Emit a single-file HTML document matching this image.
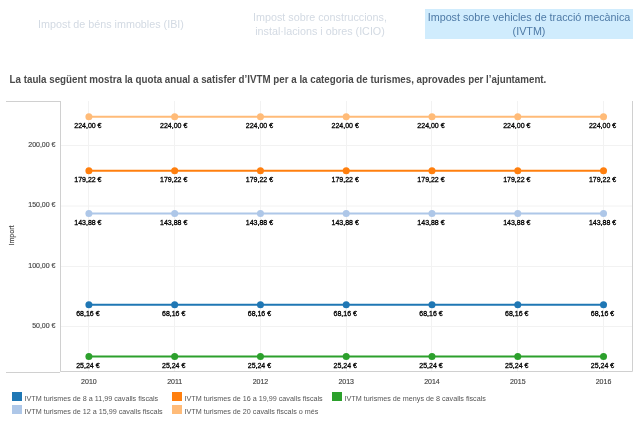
<!DOCTYPE html>
<html><head><meta charset="utf-8"><style>
html,body{margin:0;padding:0;background:#fff;width:643px;height:421px;overflow:hidden;position:relative;font-family:"Liberation Sans",sans-serif}
.tab{position:absolute;top:9px;width:208px;height:29px;padding-top:1px;display:flex;align-items:center;justify-content:center;text-align:center;font-size:10.75px;line-height:13.5px;color:#d3dae3}
.tab.on{background:#d0ecfd;color:#4e7aa6}
.title{position:absolute;left:9.6px;top:73px;font-size:9.77px;font-weight:bold;color:#4a4a4a;transform:scaleY(1.06);transform-origin:0 0;white-space:nowrap;line-height:12px}
svg{position:absolute;left:0;top:0}
.ax{font-size:7px;fill:#444;stroke:#444;stroke-width:0.15px}
.dl{font-size:7px;fill:#000;stroke:#000;stroke-width:0.3px}
.sw{position:absolute;width:10px;height:9px}
.lt{position:absolute;font-size:7.2px;line-height:9px;color:#555;white-space:nowrap}
</style></head><body><div id="wrap" style="position:absolute;left:0;top:0;width:643px;height:421px;will-change:transform">
<div class="tab" style="left:7px">Impost de béns immobles (IBI)</div>
<div class="tab" style="left:216px">Impost sobre construccions,<br>instal·lacions i obres (ICIO)</div>
<div class="tab on" style="left:425px">Impost sobre vehicles de tracció mecànica<br>(IVTM)</div>
<div class="title">La taula següent mostra la quota anual a satisfer d’IVTM per a la categoria de turismes, aprovades per l’ajuntament.</div>
<svg width="643" height="421" style="font-family:'Liberation Sans',sans-serif">
<line x1="60" y1="145.5" x2="632" y2="145.5" stroke="#f2f2f2" stroke-width="1"/>
<text x="55.5" y="146.8" text-anchor="end" class="ax">200,00 €</text>
<line x1="60" y1="206" x2="632" y2="206" stroke="#f2f2f2" stroke-width="1"/>
<text x="55.5" y="207.3" text-anchor="end" class="ax">150,00 €</text>
<line x1="60" y1="266.5" x2="632" y2="266.5" stroke="#f2f2f2" stroke-width="1"/>
<text x="55.5" y="267.8" text-anchor="end" class="ax">100,00 €</text>
<line x1="60" y1="326.5" x2="632" y2="326.5" stroke="#f2f2f2" stroke-width="1"/>
<text x="55.5" y="327.8" text-anchor="end" class="ax">50,00 €</text>
<line x1="88.5" y1="101" x2="88.5" y2="371" stroke="#f2f2f2" stroke-width="1"/>
<text x="88.90" y="383.5" text-anchor="middle" class="ax">2010</text>
<line x1="174.5" y1="101" x2="174.5" y2="371" stroke="#f2f2f2" stroke-width="1"/>
<text x="174.67" y="383.5" text-anchor="middle" class="ax">2011</text>
<line x1="260.5" y1="101" x2="260.5" y2="371" stroke="#f2f2f2" stroke-width="1"/>
<text x="260.44" y="383.5" text-anchor="middle" class="ax">2012</text>
<line x1="346.5" y1="101" x2="346.5" y2="371" stroke="#f2f2f2" stroke-width="1"/>
<text x="346.21" y="383.5" text-anchor="middle" class="ax">2013</text>
<line x1="431.5" y1="101" x2="431.5" y2="371" stroke="#f2f2f2" stroke-width="1"/>
<text x="431.98" y="383.5" text-anchor="middle" class="ax">2014</text>
<line x1="517.5" y1="101" x2="517.5" y2="371" stroke="#f2f2f2" stroke-width="1"/>
<text x="517.75" y="383.5" text-anchor="middle" class="ax">2015</text>
<line x1="603.5" y1="101" x2="603.5" y2="371" stroke="#f2f2f2" stroke-width="1"/>
<text x="603.52" y="383.5" text-anchor="middle" class="ax">2016</text>
<path d="M6,101.5 H60.5 V371.5" fill="none" stroke="#d0d0d0" stroke-width="1"/>
<path d="M6,372.5 H60" fill="none" stroke="#d0d0d0" stroke-width="1"/>
<path d="M60.5,101 V371.5 H632.5 V101" fill="none" stroke="#d0d0d0" stroke-width="1"/>
<text transform="translate(13.5,235.5) rotate(-90)" text-anchor="middle" class="ax">Import</text>
<polyline points="88.90,116.70 174.67,116.70 260.44,116.70 346.21,116.70 431.98,116.70 517.75,116.70 603.52,116.70" fill="none" stroke="#ffbb78" stroke-width="2"/>
<circle cx="88.90" cy="116.70" r="3.5" fill="#ffbb78"/>
<circle cx="174.67" cy="116.70" r="3.5" fill="#ffbb78"/>
<circle cx="260.44" cy="116.70" r="3.5" fill="#ffbb78"/>
<circle cx="346.21" cy="116.70" r="3.5" fill="#ffbb78"/>
<circle cx="431.98" cy="116.70" r="3.5" fill="#ffbb78"/>
<circle cx="517.75" cy="116.70" r="3.5" fill="#ffbb78"/>
<circle cx="603.52" cy="116.70" r="3.5" fill="#ffbb78"/>
<text x="87.90" y="128.00" text-anchor="middle" class="dl">224,00 €</text>
<text x="173.67" y="128.00" text-anchor="middle" class="dl">224,00 €</text>
<text x="259.44" y="128.00" text-anchor="middle" class="dl">224,00 €</text>
<text x="345.21" y="128.00" text-anchor="middle" class="dl">224,00 €</text>
<text x="430.98" y="128.00" text-anchor="middle" class="dl">224,00 €</text>
<text x="516.75" y="128.00" text-anchor="middle" class="dl">224,00 €</text>
<text x="602.52" y="128.00" text-anchor="middle" class="dl">224,00 €</text>
<polyline points="88.90,170.74 174.67,170.74 260.44,170.74 346.21,170.74 431.98,170.74 517.75,170.74 603.52,170.74" fill="none" stroke="#ff7f0e" stroke-width="2"/>
<circle cx="88.90" cy="170.74" r="3.5" fill="#ff7f0e"/>
<circle cx="174.67" cy="170.74" r="3.5" fill="#ff7f0e"/>
<circle cx="260.44" cy="170.74" r="3.5" fill="#ff7f0e"/>
<circle cx="346.21" cy="170.74" r="3.5" fill="#ff7f0e"/>
<circle cx="431.98" cy="170.74" r="3.5" fill="#ff7f0e"/>
<circle cx="517.75" cy="170.74" r="3.5" fill="#ff7f0e"/>
<circle cx="603.52" cy="170.74" r="3.5" fill="#ff7f0e"/>
<text x="87.90" y="182.04" text-anchor="middle" class="dl">179,22 €</text>
<text x="173.67" y="182.04" text-anchor="middle" class="dl">179,22 €</text>
<text x="259.44" y="182.04" text-anchor="middle" class="dl">179,22 €</text>
<text x="345.21" y="182.04" text-anchor="middle" class="dl">179,22 €</text>
<text x="430.98" y="182.04" text-anchor="middle" class="dl">179,22 €</text>
<text x="516.75" y="182.04" text-anchor="middle" class="dl">179,22 €</text>
<text x="602.52" y="182.04" text-anchor="middle" class="dl">179,22 €</text>
<polyline points="88.90,213.38 174.67,213.38 260.44,213.38 346.21,213.38 431.98,213.38 517.75,213.38 603.52,213.38" fill="none" stroke="#aec7e8" stroke-width="2"/>
<circle cx="88.90" cy="213.38" r="3.5" fill="#aec7e8"/>
<circle cx="174.67" cy="213.38" r="3.5" fill="#aec7e8"/>
<circle cx="260.44" cy="213.38" r="3.5" fill="#aec7e8"/>
<circle cx="346.21" cy="213.38" r="3.5" fill="#aec7e8"/>
<circle cx="431.98" cy="213.38" r="3.5" fill="#aec7e8"/>
<circle cx="517.75" cy="213.38" r="3.5" fill="#aec7e8"/>
<circle cx="603.52" cy="213.38" r="3.5" fill="#aec7e8"/>
<text x="87.90" y="224.68" text-anchor="middle" class="dl">143,88 €</text>
<text x="173.67" y="224.68" text-anchor="middle" class="dl">143,88 €</text>
<text x="259.44" y="224.68" text-anchor="middle" class="dl">143,88 €</text>
<text x="345.21" y="224.68" text-anchor="middle" class="dl">143,88 €</text>
<text x="430.98" y="224.68" text-anchor="middle" class="dl">143,88 €</text>
<text x="516.75" y="224.68" text-anchor="middle" class="dl">143,88 €</text>
<text x="602.52" y="224.68" text-anchor="middle" class="dl">143,88 €</text>
<polyline points="88.90,304.75 174.67,304.75 260.44,304.75 346.21,304.75 431.98,304.75 517.75,304.75 603.52,304.75" fill="none" stroke="#1f77b4" stroke-width="2"/>
<circle cx="88.90" cy="304.75" r="3.5" fill="#1f77b4"/>
<circle cx="174.67" cy="304.75" r="3.5" fill="#1f77b4"/>
<circle cx="260.44" cy="304.75" r="3.5" fill="#1f77b4"/>
<circle cx="346.21" cy="304.75" r="3.5" fill="#1f77b4"/>
<circle cx="431.98" cy="304.75" r="3.5" fill="#1f77b4"/>
<circle cx="517.75" cy="304.75" r="3.5" fill="#1f77b4"/>
<circle cx="603.52" cy="304.75" r="3.5" fill="#1f77b4"/>
<text x="87.90" y="316.05" text-anchor="middle" class="dl">68,16 €</text>
<text x="173.67" y="316.05" text-anchor="middle" class="dl">68,16 €</text>
<text x="259.44" y="316.05" text-anchor="middle" class="dl">68,16 €</text>
<text x="345.21" y="316.05" text-anchor="middle" class="dl">68,16 €</text>
<text x="430.98" y="316.05" text-anchor="middle" class="dl">68,16 €</text>
<text x="516.75" y="316.05" text-anchor="middle" class="dl">68,16 €</text>
<text x="602.52" y="316.05" text-anchor="middle" class="dl">68,16 €</text>
<polyline points="88.90,356.54 174.67,356.54 260.44,356.54 346.21,356.54 431.98,356.54 517.75,356.54 603.52,356.54" fill="none" stroke="#2ca02c" stroke-width="2"/>
<circle cx="88.90" cy="356.54" r="3.5" fill="#2ca02c"/>
<circle cx="174.67" cy="356.54" r="3.5" fill="#2ca02c"/>
<circle cx="260.44" cy="356.54" r="3.5" fill="#2ca02c"/>
<circle cx="346.21" cy="356.54" r="3.5" fill="#2ca02c"/>
<circle cx="431.98" cy="356.54" r="3.5" fill="#2ca02c"/>
<circle cx="517.75" cy="356.54" r="3.5" fill="#2ca02c"/>
<circle cx="603.52" cy="356.54" r="3.5" fill="#2ca02c"/>
<text x="87.90" y="367.84" text-anchor="middle" class="dl">25,24 €</text>
<text x="173.67" y="367.84" text-anchor="middle" class="dl">25,24 €</text>
<text x="259.44" y="367.84" text-anchor="middle" class="dl">25,24 €</text>
<text x="345.21" y="367.84" text-anchor="middle" class="dl">25,24 €</text>
<text x="430.98" y="367.84" text-anchor="middle" class="dl">25,24 €</text>
<text x="516.75" y="367.84" text-anchor="middle" class="dl">25,24 €</text>
<text x="602.52" y="367.84" text-anchor="middle" class="dl">25,24 €</text>
</svg>
<div class="sw" style="left:12px;top:392px;background:#1f77b4"></div>
<div class="lt" style="left:24.5px;top:394px">IVTM turismes de 8 a 11,99 cavalls fiscals</div>
<div class="sw" style="left:12px;top:405px;background:#aec7e8"></div>
<div class="lt" style="left:24.5px;top:407px">IVTM turismes de 12 a 15,99 cavalls fiscals</div>
<div class="sw" style="left:172px;top:392px;background:#ff7f0e"></div>
<div class="lt" style="left:184.5px;top:394px">IVTM turismes de 16 a 19,99 cavalls fiscals</div>
<div class="sw" style="left:172px;top:405px;background:#ffbb78"></div>
<div class="lt" style="left:184.5px;top:407px">IVTM turismes de 20 cavalls fiscals o més</div>
<div class="sw" style="left:332px;top:392px;background:#2ca02c"></div>
<div class="lt" style="left:344.5px;top:394px">IVTM turismes de menys de 8 cavalls fiscals</div>
</div></body></html>
